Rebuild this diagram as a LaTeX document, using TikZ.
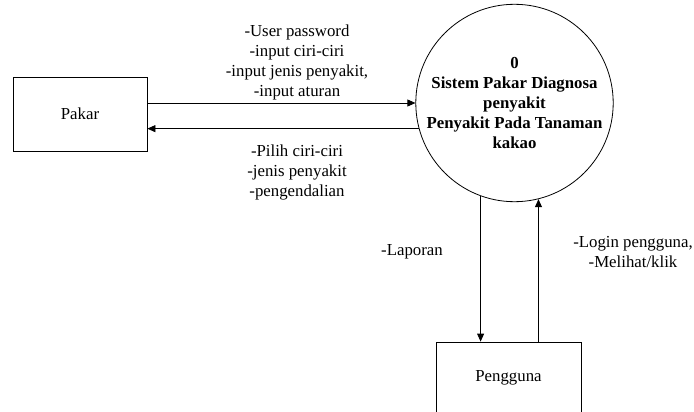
\documentclass[tikz,border=0pt]{standalone}
\usepackage{fontspec}
\setmainfont{Liberation Serif}
\usetikzlibrary{arrows.meta}
\begin{document}
\begin{tikzpicture}[x=1pt,y=-1pt,
  txt/.style={font=\fontsize{16.8}{20}\selectfont, align=center, inner sep=0pt},
  entity/.style={draw, line width=0.8pt, rectangle, inner sep=0pt, font=\fontsize{16.8}{20}\selectfont},
  proc/.style={draw, line width=0.8pt, circle, minimum size=192pt, inner sep=0pt, align=center, font=\fontsize{16.8}{20}\selectfont\bfseries},
  flow/.style={line width=0.8pt, -{Triangle[length=8pt,width=7pt]}}]
\useasboundingbox (0,0) rectangle (694,412);
\clip (0,0) rectangle (694,412);
\node[entity, minimum width=134pt, minimum height=74pt] (pakar) at (80,114) {Pakar};
\node[proc] (sys) at (514.5,103) {0\\Sistem Pakar Diagnosa\\penyakit\\Penyakit Pada Tanaman\\kakao};
\node[entity, minimum width=145pt, minimum height=72pt] (peng) at (508.5,378) {Pengguna};
\draw[flow] (pakar.east |- sys.west) -- (sys.west);
\draw[flow] (sys.195) -- (pakar.east |- sys.195);
\draw[flow] (sys.250) -- (sys.250 |- peng.north);
\draw[flow] (sys.284 |- peng.north) -- (sys.284);
\node[txt] (l1) at (297,62) {-User password\\-input ciri-ciri\\-input jenis penyakit,\\-input aturan};
\node[txt] (l2) at (297,172) {-Pilih ciri-ciri\\-jenis penyakit\\-pengendalian};
\node[txt] (l3) at (412,252) {-Laporan};
\node[txt] (l4) at (633,252) {-Login pengguna,\\-Melihat/klik};
\end{tikzpicture}
\end{document}
